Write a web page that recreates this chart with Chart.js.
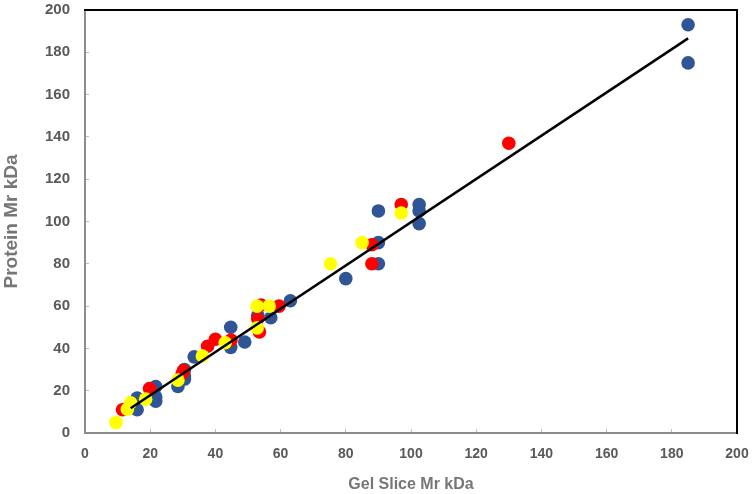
<!DOCTYPE html>
<html>
<head>
<meta charset="utf-8">
<script src="https://cdn.jsdelivr.net/npm/chart.js@4"></script>
<style>
  html, body { margin: 0; padding: 0; background: #fff; }
  #wrap { width: 754px; height: 494px; }
</style>
</head>
<body>
<div id="wrap"><canvas id="chart" width="754" height="494"></canvas></div>
<script>
// Gel slice Mr (x) vs protein Mr (y), three groups of points
const blueX = [185, 185, 102.5, 102.5, 102.5, 90, 90, 90, 80, 63, 57, 53, 49, 44.7, 44.7, 33.5, 30.5, 30.5, 30.5, 28.5, 21.7, 21.7, 21.7, 16, 16];
const blueY = [193, 175, 108, 105, 99, 105, 90, 80, 73, 62.5, 54.5, 55.5, 43, 50, 40.5, 36, 30, 27, 25.5, 22, 22, 17, 15, 16.5, 11];

const redX = [130, 97, 88, 88, 59.5, 54, 53, 53.5, 44.8, 40, 37.6, 30.2, 29.8, 19.8, 11.5];
const redY = [137, 108, 89, 80, 60, 60.5, 54, 47.8, 44, 44.3, 41, 29.5, 28, 21, 11];

const yellowX = [97, 85, 75.3, 56.5, 52.8, 52.8, 43, 36, 28.5, 18.6, 14, 13, 9.5];
const yellowY = [104, 90, 80, 60, 60, 49.7, 42.7, 36.4, 25, 16, 14.3, 11.2, 5];

// trend line end points
const trendX = [14, 185];
const trendY = [11.7, 186.6];

const axisTicks = [0, 20, 40, 60, 80, 100, 120, 140, 160, 180, 200];

function pairs(xs, ys) {
    return xs.map((x, i) => ({ x: x, y: ys[i] }));
}

// fixed box sizes, no extra room for label overflow
function fixSize(w, h) {
    return (axis) => {
        if (w !== null) axis.width = w;
        if (h !== null) axis.height = h;
        axis.paddingTop = 0;
        axis.paddingBottom = 0;
        axis.paddingLeft = 0;
        axis.paddingRight = 0;
    };
}

const font = "'Liberation Sans', Arial, sans-serif";

const ctx = document.querySelector("#chart").getContext("2d");

new Chart(ctx, {
    type: "scatter",
    data: {
        datasets: [
            {
                label: "trend",
                data: pairs(trendX, trendY),
                showLine: true,
                borderColor: "#000",
                borderWidth: 2.5,
                pointRadius: 0,
                order: 0
            },
            {
                label: "yellow",
                data: pairs(yellowX, yellowY),
                backgroundColor: "#FFFF00",
                borderWidth: 0,
                pointRadius: 6.8,
                order: 1
            },
            {
                label: "red",
                data: pairs(redX, redY),
                backgroundColor: "#FF0000",
                borderWidth: 0,
                pointRadius: 6.8,
                order: 2
            },
            {
                label: "blue",
                data: pairs(blueX, blueY),
                backgroundColor: "#2F5597",
                borderWidth: 0,
                pointRadius: 6.8,
                order: 3
            }
        ]
    },
    options: {
        responsive: false,
        animation: false,
        layout: { padding: 0 },
        plugins: { legend: { display: false }, tooltip: { enabled: false } },
        scales: {
            x: {
                type: "linear",
                position: "bottom",
                min: 0,
                max: 200,
                afterBuildTicks: (axis) => { axis.ticks = axisTicks.map(v => ({ value: v })); },
                afterFit: fixSize(null, 61),
                grid: { drawOnChartArea: false, color: "#BFBFBF", tickLength: -4 },
                border: { color: "#8C8C8C", width: 2 },
                ticks: { color: "#595959", font: { family: font, size: 14, weight: "bold" }, padding: 17, maxRotation: 0 },
                title: { display: true, text: "Gel Slice Mr kDa", color: "#767676", font: { family: font, size: 16, weight: "bold" }, padding: { top: 0, bottom: 0 } }
            },
            y: {
                type: "linear",
                position: "left",
                min: 0,
                max: 200,
                afterBuildTicks: (axis) => { axis.ticks = axisTicks.map(v => ({ value: v })); },
                afterFit: fixSize(85, null),
                grid: { drawOnChartArea: false, color: "#BFBFBF", tickLength: -4 },
                border: { color: "#8C8C8C", width: 2 },
                ticks: { color: "#595959", font: { family: font, size: 15, weight: "bold" }, padding: 19 },
                title: { display: true, text: "Protein Mr kDa", color: "#767676", font: { family: font, size: 19, weight: "bold" }, padding: { top: 0, bottom: 0 } }
            },
            x2: {
                type: "linear",
                position: "top",
                min: 0,
                max: 200,
                afterFit: fixSize(null, 10),
                grid: { display: false, drawTicks: false },
                border: { color: "#000", width: 2 },
                ticks: { display: false }
            },
            y2: {
                type: "linear",
                position: "right",
                min: 0,
                max: 200,
                afterFit: fixSize(17, null),
                grid: { display: false, drawTicks: false },
                border: { color: "#000", width: 2 },
                ticks: { display: false }
            }
        }
    }
});
</script>
</body>
</html>
